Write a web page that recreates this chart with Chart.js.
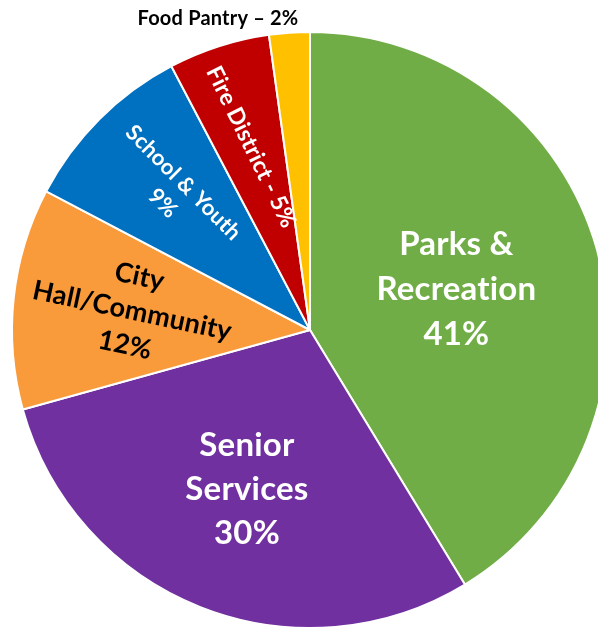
<!DOCTYPE html>
<html>
<head>
<meta charset="utf-8">
<script src="https://cdn.jsdelivr.net/npm/chart.js@4.4.1/dist/chart.umd.min.js"></script>
<style>
  html, body { margin: 0; padding: 0; background: #ffffff; overflow: hidden; width: 598px; height: 629px; }
  #wrap { position: absolute; left: 0px; top: 0px; width: 620px; height: 660px; }
</style>
</head>
<body>
<div id="wrap"><canvas id="c"></canvas></div>
<script>
// ---- data ----
const categories = ["Parks & Recreation", "Senior Services", "City Hall/Community", "School & Youth", "Fire District", "Food Pantry"];
const values = [41.3, 29.4, 12.0, 9.6, 5.5, 2.2];
const percentLabels = ["41%", "30%", "12%", "9%", "5%", "2%"];
const colors = ["#70AD47", "#7030A0", "#F99A3B", "#0070C0", "#C00000", "#FFC000"];

// display text lines per slice (built from the arrays above)
const labelLines = [
  ["Parks &", "Recreation", percentLabels[0]],
  ["Senior", "Services", percentLabels[1]],
  ["City", "Hall/Community", percentLabels[2]],
  ["School & Youth", percentLabels[3]],
  ["Fire District - " + percentLabels[4]],
  ["Food Pantry \u2013 " + percentLabels[5]]
];

// label styling / placement (radial fraction, rotation in degrees, font size, line height, color)
const labelStyle = [
  { frac: 0.51, rot: 0,  size: 33, lh: 45, color: "#ffffff" },
  { frac: 0.575, rot: 0, size: 33, lh: 44, color: "#ffffff" },
  { frac: 0.60, rot: 12, size: 27, lh: 35, color: "#000000" },
  { frac: 0.65, rot: 45, size: 22, lh: 29, color: "#ffffff" },
  { frac: 0.645, rot: 64, size: 23, lh: 26, color: "#ffffff" },
  { outside: true, size: 20, color: "#000000" }
];

const labelPlugin = {
  id: 'sliceLabels',
  afterDatasetsDraw(chart) {
    const ctx = chart.ctx;
    const meta = chart.getDatasetMeta(0);
    meta.data.forEach((arc, i) => {
      const st = labelStyle[i];
      const lines = labelLines[i];
      const mid = (arc.startAngle + arc.endAngle) / 2;
      let x, y;
      ctx.save();
      ctx.font = "bold " + st.size + "px Lato, 'Open Sans', sans-serif";
      try { ctx.letterSpacing = "0.2px"; } catch (e) {}
      ctx.fillStyle = st.color;
      ctx.textAlign = "center";
      ctx.textBaseline = "middle";
      if (st.outside) {
        // above the top of the pie, left of the slice
        x = arc.x - 92;
        y = arc.y - arc.outerRadius - 13;
        ctx.fillText(lines[0], x, y);
        ctx.restore();
        return;
      }
      const r = arc.outerRadius * st.frac;
      x = arc.x + Math.cos(mid) * r;
      y = arc.y + Math.sin(mid) * r;
      ctx.translate(x, y);
      ctx.rotate(st.rot * Math.PI / 180);
      const n = lines.length;
      lines.forEach((ln, k) => {
        ctx.fillText(ln, 0, (k - (n - 1) / 2) * st.lh);
      });
      ctx.restore();
    });
  }
};

new Chart(document.getElementById('c'), {
  type: 'pie',
  data: {
    labels: categories,
    datasets: [{
      data: values,
      backgroundColor: colors,
      borderColor: "#ffffff",
      borderWidth: 2,
      hoverOffset: 0,
      offset: 0
    }]
  },
  options: {
    responsive: true,
    maintainAspectRatio: false,
    animation: false,
    layout: { padding: { left: 11, top: 31, right: 11, bottom: 31 } },
    plugins: {
      legend: { display: false },
      tooltip: { enabled: false },
      title: { display: false }
    }
  },
  plugins: [labelPlugin]
});
</script>
</body>
</html>
